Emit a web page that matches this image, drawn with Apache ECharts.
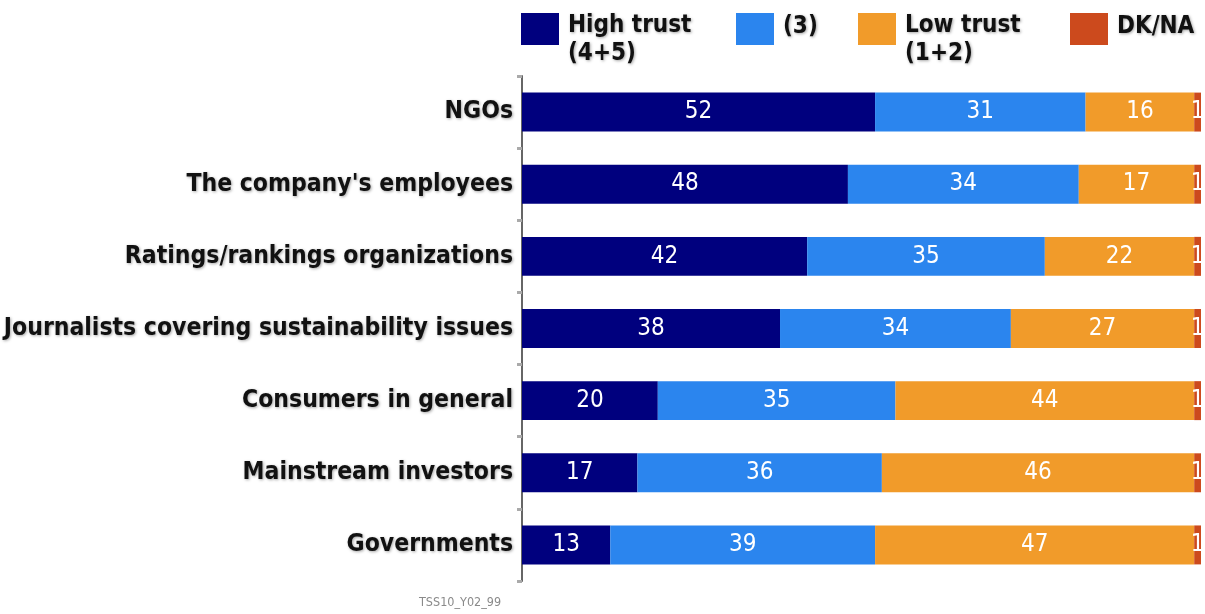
<!DOCTYPE html>
<html>
<head>
<meta charset="utf-8">
<script src="https://cdn.jsdelivr.net/npm/echarts@6/dist/echarts.min.js"></script>
<style>
  html, body { margin: 0; padding: 0; background: #ffffff; }
  #chart { width: 1205px; height: 614px; }
</style>
</head>
<body>
<div id="chart"></div>
<script>
// Trust in sources of information on corporate sustainability (% of respondents)
const categories = [
  'NGOs',
  "The company's employees",
  'Ratings/rankings organizations',
  'Journalists covering sustainability issues',
  'Consumers in general',
  'Mainstream investors',
  'Governments'
];
const seriesNames = ['High trust\n(4+5)', '(3)', 'Low trust\n(1+2)', 'DK/NA'];
const highTrust = [52, 48, 42, 38, 20, 17, 13];
const neutral   = [31, 34, 35, 34, 35, 36, 39];
const lowTrust  = [16, 17, 22, 27, 44, 46, 47];
const dkna      = [1, 1, 1, 1, 1, 1, 1];
const colors = ['#00007e', '#2b85ee', '#f19b2a', '#cc4a1d'];
const sourceNote = 'TSS10_Y02_99';

const values = [highTrust, neutral, lowTrust, dkna];
const FONT = '"DejaVu Sans Condensed", "DejaVu Sans", sans-serif';

const chart = echarts.init(document.getElementById('chart'), null, { renderer: 'canvas' });

const legendText = {
  fontFamily: FONT,
  fontSize: 24,
  fontWeight: 'bold',
  color: '#111',
  lineHeight: 28,
  textShadowColor: 'rgba(0,0,0,0.35)',
  textShadowBlur: 3,
  textShadowOffsetX: 1,
  textShadowOffsetY: 1
};

// Legend text is centred on its swatch; spacer lines push the first
// text line up against the swatch's top edge.
function legendLabel(name) {
  const lines = name.split('\n').map(l => '{t|' + l + '}');
  if (lines.length > 1) return '{lead| }\n' + lines.join('\n');
  return lines[0] + '\n{tail| }';
}

// one legend block per series so each swatch sits at its own spot
const legendLeft = [521, 736, 858, 1070];
const legends = seriesNames.map((n, i) => {
  const twoLines = n.indexOf('\n') >= 0;
  return {
    data: [n],
    left: legendLeft[i],
    top: twoLines ? -10 : 13,
    orient: 'horizontal',
    itemWidth: 38,
    itemHeight: 32,
    itemGap: 6,
    padding: 0,
    selectedMode: false,
    icon: 'rect',
    formatter: legendLabel,
    textStyle: {
      padding: [0, 0, 0, 4],
      rich: {
        t: Object.assign({}, legendText),
        lead: { fontSize: 4, lineHeight: 22, height: 22 },
        tail: { fontSize: 4, lineHeight: 4, height: 4 }
      }
    }
  };
});

const series = values.map((arr, i) => ({
  name: seriesNames[i],
  type: 'bar',
  stack: 'total',
  barWidth: '54%',
  data: arr,
  itemStyle: { color: colors[i] },
  label: {
    show: true,
    position: 'inside',
    color: '#ffffff',
    fontFamily: FONT,
    fontSize: 24,
    fontWeight: 'normal',
    formatter: p => String(p.value)
  }
}));

chart.setOption({
  animation: false,
  backgroundColor: '#ffffff',
  title: {
    text: sourceNote,
    left: 419,
    top: 596,
    padding: 0,
    textStyle: { fontFamily: FONT, fontSize: 12.5, color: '#8a8a8a', fontWeight: 'normal' }
  },
  legend: legends,
  grid: { left: 522, right: 4, top: 76, bottom: 33, containLabel: false },
  xAxis: {
    type: 'value',
    min: 0,
    max: 100,
    show: false
  },
  yAxis: {
    type: 'category',
    data: categories,
    inverse: true,
    axisLine: { show: true, lineStyle: { color: '#666', width: 2 } },
    axisTick: { show: true, alignWithLabel: false, length: 5, lineStyle: { color: '#aaa', width: 3 } },
    axisLabel: {
      fontFamily: FONT,
      fontSize: 24.5,
      fontWeight: 'bold',
      color: '#111',
      margin: 9,
      textShadowColor: 'rgba(0,0,0,0.35)',
      textShadowBlur: 3,
      textShadowOffsetX: 1,
      textShadowOffsetY: 1
    },
    splitLine: { show: false }
  },
  series: series
});
</script>
</body>
</html>
